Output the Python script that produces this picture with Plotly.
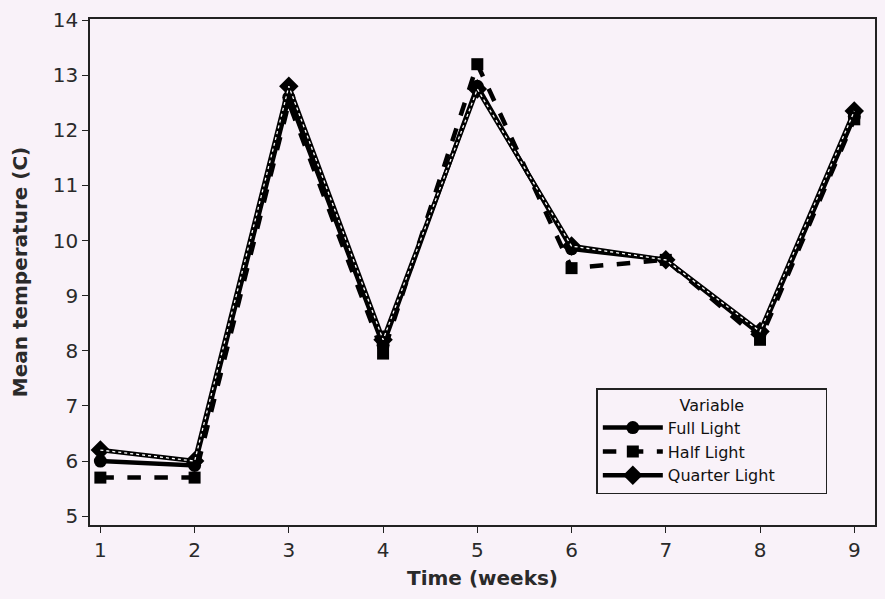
import plotly.graph_objects as go

weeks = [1, 2, 3, 4, 5, 6, 7, 8, 9]
full_light = [6.0, 5.92, 12.6, 8.1, 12.8, 9.85, 9.65, 8.3, 12.25]
half_light = [5.7, 5.7, 12.5, 7.95, 13.2, 9.5, 9.65, 8.2, 12.2]
quarter_light = [6.2, 6.0, 12.8, 8.2, 12.75, 9.9, 9.65, 8.35, 12.35]

x_ticks = [1, 2, 3, 4, 5, 6, 7, 8, 9]
y_ticks = [5, 6, 7, 8, 9, 10, 11, 12, 13, 14]

bg = "#f9f2f9"
font_family = "DejaVu Sans"
pad = "\u00a0" * 9

fig = go.Figure()

fig.add_trace(go.Scatter(
    x=weeks, y=half_light, name="Half Light", mode="lines+markers",
    line=dict(color="black", width=4.5, dash="dash"),
    marker=dict(symbol="square", size=12, color="black"),
    legendrank=2,
))
fig.add_trace(go.Scatter(
    x=weeks, y=full_light, name="Full Light", mode="lines+markers",
    line=dict(color="black", width=4.5),
    marker=dict(symbol="circle", size=13, color="black"),
    legendrank=1,
))
fig.add_trace(go.Scatter(
    x=weeks, y=quarter_light, name="Quarter Light" + pad, mode="lines+markers",
    line=dict(color="black", width=4.5),
    marker=dict(symbol="diamond", size=15, color="black"),
    legendrank=3,
))
fig.add_trace(go.Scatter(
    x=weeks, y=quarter_light, mode="lines", showlegend=False,
    line=dict(color="white", width=1.3, dash="dot"),
    hoverinfo="skip",
))

fig.update_layout(
    width=885, height=599,
    margin=dict(l=90, r=8, t=17, b=74),
    paper_bgcolor=bg, plot_bgcolor=bg,
    font=dict(family=font_family, color="#2a2a2a", size=20),
    showlegend=True,
    legend=dict(
        x=0.645, y=0.27, xanchor="left", yanchor="top",
        bgcolor=bg, bordercolor="#222222", borderwidth=1.5,
        title=dict(text="Variable", side="top center", font=dict(size=16)),
        font=dict(size=16, color="#111111"),
        tracegroupgap=0, itemwidth=60,
    ),
    xaxis=dict(
        range=[0.89, 9.22], tickvals=x_ticks, ticktext=[str(v) for v in x_ticks],
        showgrid=False, zeroline=False, showline=True, linecolor="#222222",
        linewidth=1.5, mirror=True, ticks="outside", ticklen=6, tickcolor="#222222",
        tickfont=dict(size=20),
        title=dict(text="<b>Time (weeks)</b>", font=dict(size=20), standoff=10),
    ),
    yaxis=dict(
        range=[4.84, 14.02], tickvals=y_ticks, ticktext=[str(v) for v in y_ticks],
        showgrid=False, zeroline=False, showline=True, linecolor="#222222",
        linewidth=1.5, mirror=True, ticks="outside", ticklen=6, tickcolor="#222222",
        tickfont=dict(size=20),
        title=dict(text="<b>Mean temperature (C)</b>", font=dict(size=20), standoff=20),
    ),
)

fig.write_html("out.html")
